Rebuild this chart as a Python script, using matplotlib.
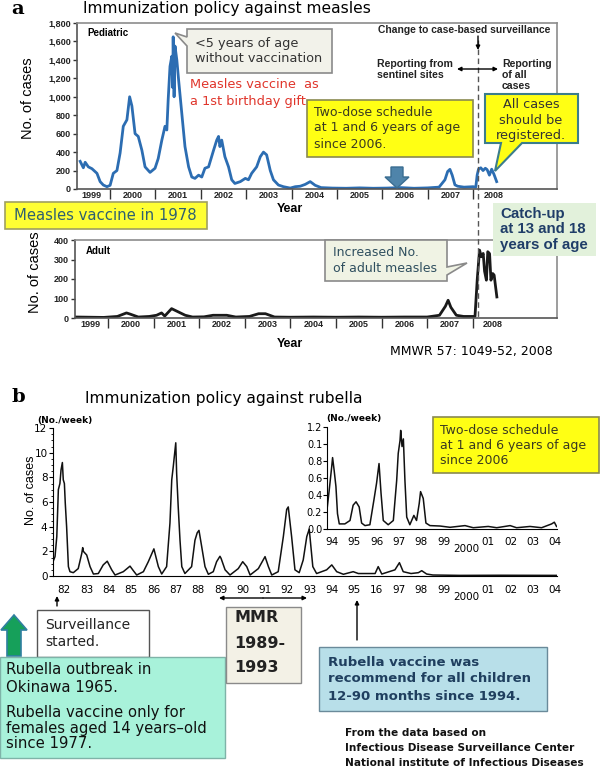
import matplotlib
matplotlib.use("Agg")
import matplotlib.pyplot as plt
from matplotlib.patches import Polygon
from matplotlib.ticker import FuncFormatter, MultipleLocator

W, H = 601, 770

# ---------------- data ----------------
# measles, pediatric (cases per week)
ped_year = [1999.34, 1999.41, 1999.45, 1999.52, 1999.60, 1999.71, 1999.78, 1999.85, 1999.93,
            2000.00, 2000.07, 2000.15, 2000.22, 2000.29, 2000.37, 2000.43, 2000.48, 2000.55,
            2000.62, 2000.70, 2000.77, 2000.88, 2000.99, 2001.06, 2001.14, 2001.21, 2001.25,
            2001.28, 2001.32, 2001.36, 2001.38, 2001.39, 2001.41, 2001.43, 2001.47, 2001.51,
            2001.58, 2001.65, 2001.73, 2001.80, 2001.87, 2001.95, 2002.02, 2002.09, 2002.17,
            2002.28, 2002.35, 2002.39, 2002.42, 2002.46, 2002.53, 2002.61, 2002.68, 2002.75,
            2002.87, 2002.98, 2003.05, 2003.12, 2003.23, 2003.31, 2003.38, 2003.45, 2003.53,
            2003.60, 2003.71, 2003.82, 2003.97, 2004.08, 2004.19, 2004.30, 2004.41, 2004.52,
            2004.65, 2004.90, 2005.20, 2005.50, 2005.80, 2006.10, 2006.40, 2006.70, 2007.00,
            2007.25, 2007.38, 2007.44, 2007.49, 2007.54, 2007.60, 2007.66, 2007.80, 2008.00,
            2008.06, 2008.09, 2008.12, 2008.17, 2008.22, 2008.27, 2008.31, 2008.36, 2008.41,
            2008.46, 2008.52]
ped_cases = [300, 230, 290, 240, 220, 170, 80, 43, 25,
             40, 170, 200, 390, 680, 750, 1000, 900, 600,
             570, 420, 240, 180, 225, 330, 530, 680, 640,
             970, 1330, 1440, 1100, 1650, 1000, 1550, 1400, 1180,
             820, 460, 240, 130, 115, 150, 130, 225, 240,
             420, 530, 570, 460, 530, 350, 240, 100, 60,
             80, 115, 100, 170, 240, 350, 400, 370, 200,
             100, 43, 25, 10, 25, 30, 50, 80, 40,
             15, 10, 8, 12, 8, 10, 15, 8, 12,
             20, 100, 190, 213, 150, 45, 30, 20, 25,
             20, 150, 215, 230, 200, 225, 210, 150, 215,
             160, 80]

# measles, adult (cases per week)
adult_year = [1999.30, 1999.60, 1999.90, 2000.20, 2000.40, 2000.48, 2000.66, 2000.90, 2001.06,
              2001.17, 2001.24, 2001.39, 2001.54, 2001.69, 2001.85, 2002.10, 2002.30, 2002.60,
              2002.80, 2003.10, 2003.30, 2003.45, 2003.65, 2004.00, 2004.50, 2005.00, 2005.50,
              2006.00, 2006.50, 2007.00, 2007.27, 2007.40, 2007.46, 2007.52, 2007.64, 2007.80,
              2008.05, 2008.10, 2008.15, 2008.19, 2008.23, 2008.26, 2008.30, 2008.33, 2008.37,
              2008.40, 2008.44, 2008.47, 2008.53]
adult_cases = [5, 4, 3, 8, 26, 20, 5, 8, 14,
               26, 10, 48, 31, 14, 5, 6, 14, 14,
               5, 8, 22, 22, 5, 4, 5, 4, 5,
               4, 5, 5, 14, 60, 91, 55, 14, 8,
               8, 200, 348, 314, 331, 240, 194, 340, 330,
               194, 228, 220, 108]

measles_labels = ['1999', '2000', '2001', '2002', '2003', '2004', '2005', '2006', '2007', '2008']
measles_label_pos = [1999.6, 2000.5, 2001.5, 2002.5, 2003.5, 2004.5, 2005.5, 2006.5, 2007.5, 2008.45]
year_bounds = [2000, 2001, 2002, 2003, 2004, 2005, 2006, 2007, 2008]

# rubella 1982-2004 (No./week)
rub_year = [1982.01, 1982.09, 1982.17, 1982.24, 1982.31, 1982.36, 1982.42, 1982.46, 1982.51,
            1982.55, 1982.61, 1982.69, 1982.76, 1982.91, 1983.13, 1983.29, 1983.33, 1983.36,
            1983.51, 1983.66, 1983.81, 1984.03, 1984.25, 1984.43, 1984.63, 1984.78, 1985.15,
            1985.45, 1985.60, 1985.75, 1986.05, 1986.27, 1986.52, 1986.72, 1986.87, 1987.09,
            1987.24, 1987.32, 1987.39, 1987.43, 1987.50, 1987.54, 1987.61, 1987.69, 1987.77,
            1987.91, 1988.21, 1988.36, 1988.46, 1988.54, 1988.66, 1988.81, 1988.96, 1989.18,
            1989.33, 1989.48, 1989.53, 1989.71, 1989.93, 1990.30, 1990.50, 1990.68, 1990.83,
            1991.20, 1991.50, 1991.65, 1991.80, 1992.09, 1992.32, 1992.47, 1992.54, 1992.69,
            1992.84, 1993.03, 1993.21, 1993.37, 1993.48, 1993.64, 1993.81, 1994.26, 1994.49,
            1994.71, 1995.01, 1995.45, 1995.68, 1996.43, 1996.57, 1996.73, 1997.32, 1997.52,
            1997.69, 1998.04, 1998.37, 1998.52, 1998.74, 1999.02, 2000.23, 2002.03, 2004.58]
rub_cases = [1.2, 1.57, 3.2, 7.0, 7.5, 8.6, 9.2, 7.8, 7.5,
             5.9, 4.0, 0.76, 0.35, 0.27, 0.6, 1.84, 2.3, 2.0,
             1.7, 0.76, 0.16, 0.2, 0.9, 1.2, 0.5, 0.08, 0.35,
             0.8, 0.43, 0.08, 0.35, 1.16, 2.2, 0.76, 0.16, 0.76,
             4.3, 7.8, 8.9, 9.6, 10.8, 8.3, 5.6, 2.9, 0.76,
             0.2, 0.76, 2.9, 3.5, 3.7, 2.4, 0.76, 0.14, 0.35,
             1.16, 1.6, 1.43, 0.5, 0.08, 0.6, 1.16, 0.76, 0.08,
             0.6, 1.57, 0.76, 0.08, 0.35, 3.2, 5.4, 5.6, 3.2,
             0.5, 0.27, 1.3, 3.2, 3.8, 0.76, 0.2, 0.5, 0.9,
             0.35, 0.14, 0.35, 0.2, 0.2, 0.76, 0.16, 0.5, 1.08,
             0.35, 0.2, 0.27, 0.43, 0.16, 0.08, 0.05, 0.06, 0.05]

# rubella 1994-2004, enlarged inset
rub94_year = [1994.26, 1994.38, 1994.49, 1994.53, 1994.60, 1994.68, 1994.75, 1994.83, 1995.08,
              1995.31, 1995.45, 1995.58, 1995.72, 1995.83, 1995.98, 1996.20, 1996.38, 1996.50,
              1996.61, 1996.70, 1996.80, 1997.02, 1997.25, 1997.40, 1997.47, 1997.55, 1997.58,
              1997.64, 1997.70, 1997.77, 1997.85, 1997.99, 1998.17, 1998.29, 1998.41, 1998.47,
              1998.59, 1998.71, 1998.89, 1999.34, 1999.79, 2000.46, 2000.83, 2001.50, 2001.88,
              2002.48, 2002.77, 2003.37, 2003.89, 2004.34, 2004.46, 2004.56]
rub94_cases = [0.18, 0.46, 0.73, 0.84, 0.69, 0.5, 0.18, 0.06, 0.06,
               0.1, 0.28, 0.32, 0.26, 0.07, 0.04, 0.05, 0.34, 0.54,
               0.77, 0.42, 0.1, 0.05, 0.1, 0.57, 0.89, 1.04, 1.16,
               0.97, 1.06, 0.57, 0.14, 0.05, 0.16, 0.1, 0.3, 0.44,
               0.36, 0.07, 0.04, 0.035, 0.02, 0.04, 0.015, 0.03, 0.015,
               0.04, 0.015, 0.03, 0.015, 0.06, 0.08, 0.03]

rub_labels = ['82', '83', '84', '85', '86', '87', '88', '89', '90', '91', '92', '93',
              '94', '95', '16', '97', '98', '99', '2000', '01', '02', '03', '04']
rub_label_pos = [1982.5, 1983.5, 1984.5, 1985.5, 1986.5, 1987.5, 1988.5, 1989.5, 1990.5,
                 1991.5, 1992.5, 1993.5, 1994.5, 1995.5, 1996.5, 1997.5, 1998.5, 1999.5,
                 2000.5, 2001.5, 2002.5, 2003.5, 2004.5]
rub94_labels = ['94', '95', '96', '97', '98', '99', '2000', '01', '02', '03', '04']
rub94_label_pos = [1994.5, 1995.5, 1996.5, 1997.5, 1998.5, 1999.5, 2000.5, 2001.5, 2002.5,
                   2003.5, 2004.5]
inset_ytick_labels = ['0.0', '0.2', '0.4', '0.6', '0.8', '0.1', '1.2']

GOTH = 'DejaVu Sans'
ARIAL = 'Liberation Sans'
NARROW = ['Liberation Sans Narrow', 'Liberation Sans']


def rect(x0, y0, x1, y1):
    return [x0 / W, 1 - y1 / H, (x1 - x0) / W, (y1 - y0) / H]


fig = plt.figure(figsize=(W / 100, H / 100), dpi=100)


def measles_axes(pos, year, cases, color, ymax, ystep, fmt):
    ax = fig.add_axes(rect(*pos))
    ax.plot(year, cases, color=color, lw=2)
    ax.set_xlim(1999.27, 2009.85)
    ax.set_ylim(0, ymax)
    ax.set_yticks(range(0, ymax + 1, ystep))
    ax.yaxis.set_major_formatter(FuncFormatter(fmt))
    ax.set_xticks(year_bounds)
    ax.set_xticks(measles_label_pos, minor=True)
    ax.set_xticklabels(measles_labels, minor=True)
    ax.tick_params(axis='x', which='major', length=7, width=1, labelbottom=False, color='#333')
    ax.tick_params(axis='x', which='minor', length=0, pad=1.5)
    ax.tick_params(axis='y', length=3, width=1, pad=1.5, color='#333')
    for lab in ax.get_xticklabels(minor=True) + ax.get_yticklabels():
        lab.set_fontfamily(ARIAL)
        lab.set_fontsize(6.5)
        lab.set_fontweight('bold')
        lab.set_color('#222')
    for s in ax.spines.values():
        s.set_color('#8c8c8c')
        s.set_linewidth(1.2)
    ax.spines['left'].set_color('#555')
    ax.spines['bottom'].set_color('#555')
    return ax


ax_ped = measles_axes((77, 23, 557, 189), ped_year, ped_cases, '#2c6db2', 1800, 200,
                      lambda v, p: f'{int(v):,}')
ax_adu = measles_axes((75, 240, 557, 318), adult_year, adult_cases, '#1a1a1a', 400, 100,
                      lambda v, p: f'{int(v)}')

# rubella main
ax_rub = fig.add_axes(rect(53, 428, 557, 576))
ax_rub.plot(rub_year, rub_cases, color='#111', lw=1.1)
ax_rub.set_xlim(1982.0, 2004.58)
ax_rub.set_ylim(0, 12)
ax_rub.set_yticks(range(0, 13, 2))
ax_rub.yaxis.set_minor_locator(MultipleLocator(0.5))
ax_rub.set_xticks([])
ax_rub.tick_params(axis='y', which='major', length=3, pad=1, labelsize=7.5)
ax_rub.tick_params(axis='y', which='minor', length=1.5)
for s in ['top', 'right']:
    ax_rub.spines[s].set_visible(False)
for lab in ax_rub.get_yticklabels():
    lab.set_fontfamily(GOTH)
for p, lab in zip(rub_label_pos, rub_labels):
    ax_rub.annotate(lab, xy=(p, 0), xycoords=('data', 'axes fraction'),
                    xytext=(0, -11.5 if lab == '2000' else -6.5), textcoords='offset points',
                    ha='center', va='top', fontsize=7.5, family=GOTH)
ax_rub.patch.set_alpha(0)

# rubella inset 1994-2004
ax_ins = fig.add_axes(rect(327, 427, 557, 529))
ax_ins.plot(rub94_year, rub94_cases, color='#111', lw=1.1)
ax_ins.set_xlim(1994.28, 2004.58)
ax_ins.set_ylim(0, 1.2)
ax_ins.set_yticks([0, 0.2, 0.4, 0.6, 0.8, 1.0, 1.2])
ax_ins.set_yticklabels(inset_ytick_labels, fontsize=7, family=GOTH)
ax_ins.set_xticks([])
ax_ins.tick_params(axis='y', length=3, pad=0.5)
for s in ['top', 'right']:
    ax_ins.spines[s].set_visible(False)
for p, lab in zip(rub94_label_pos, rub94_labels):
    ax_ins.annotate(lab, xy=(p, 0), xycoords=('data', 'axes fraction'),
                    xytext=(0, -11 if lab == '2000' else -6), textcoords='offset points',
                    ha='center', va='top', fontsize=7.5, family=GOTH)
ax_ins.patch.set_alpha(0)

# ---------------- overlay for notes, in pixel units ----------------
ov = fig.add_axes([0, 0, 1, 1], zorder=10)
ov.set_xlim(0, W)
ov.set_ylim(H, 0)
ov.set_axis_off()


def poly(pts, fc, ec, lw=1.0):
    ov.add_patch(Polygon(pts, closed=True, fc=fc, ec=ec, lw=lw))


def box(x0, y0, x1, y1, fc, ec, lw=1.0):
    poly([(x0, y0), (x1, y0), (x1, y1), (x0, y1)], fc, ec, lw)


def lines(x, ys, strs, **kw):
    kw.setdefault('va', 'center')
    for y, s in zip(ys, strs):
        ov.text(x, y, s, **kw)


def arrow(x0, y0, x1, y1, style='-|>', lw=1.0, ms=8):
    ov.annotate('', xy=(x1, y1), xytext=(x0, y0),
                arrowprops=dict(arrowstyle=style, lw=lw, color='k', mutation_scale=ms,
                                shrinkA=0, shrinkB=0))


# panel letters and titles
ov.text(11, 9, 'a', family='DejaVu Serif', fontweight='bold', fontsize=14, va='center')
ov.text(11, 397, 'b', family='DejaVu Serif', fontweight='bold', fontsize=14, va='center')
ov.text(83, 8, 'Immunization policy against measles', family=GOTH, fontsize=11.2, va='center')
ov.text(85, 398, 'Immunization policy against rubella', family=GOTH, fontsize=11.2, va='center')

# y labels
ov.text(28, 98, 'No. of cases', rotation=90, family=NARROW, fontsize=10.5, ha='center', va='center')
ov.text(35, 272, 'No. of cases', rotation=90, family=NARROW, fontsize=10.5, ha='center', va='center')
ov.text(31, 490, 'No. of cases', rotation=90, family=NARROW, fontsize=9, ha='center', va='center')
ov.text(290, 209, 'Year', family=ARIAL, fontweight='bold', fontsize=9, ha='center', va='center')
ov.text(290, 344, 'Year', family=ARIAL, fontweight='bold', fontsize=9, ha='center', va='center')
ov.text(87, 33, 'Pediatric', family=ARIAL, fontweight='bold', fontsize=7, va='center')
ov.text(86, 251, 'Adult', family=ARIAL, fontweight='bold', fontsize=7, va='center')
ov.text(37, 420, '(No./week)', family=GOTH, fontweight='bold', fontsize=6.5, va='center')
ov.text(326, 418, '(No./week)', family=GOTH, fontweight='bold', fontsize=6.5, va='center')

# surveillance change
ov.plot([478, 478], [40, 318], color='#555', lw=1, ls=(0, (4, 2.5)))
ov.text(464, 30, 'Change to case-based surveillance', family=ARIAL, fontweight='bold',
        fontsize=7.4, ha='center', va='center', color='#222')
arrow(478, 36, 478, 50, lw=1, ms=6)
lines(377, [64, 75], ['Reporting from', 'sentinel sites'], family=ARIAL, fontweight='bold',
      fontsize=7.6, color='#222')
arrow(457, 69, 498, 69, style='<|-|>', lw=1, ms=6)
lines(502, [64, 75, 86], ['Reporting', 'of all', 'cases'], family=ARIAL, fontweight='bold',
      fontsize=7.6, color='#222')

# callout at 2001 peak
poly([(187, 29), (332, 29), (332, 73), (187, 73), (187, 46), (175, 33), (187, 37)],
     '#f2f2ea', '#8a8a8a', 1.2)
lines(195, [44, 59], ['<5 years of age', 'without vaccination'], family=GOTH, fontsize=9.3,
      color='#333')
lines(190, [85, 101], ['Measles vaccine  as', 'a 1st birthday gift'], family=GOTH, fontsize=9.3,
      color='#e0352b')

# two-dose box (measles)
box(307, 100, 473, 157, '#ffff14', '#8a8a50', 1.2)
lines(314, [113, 128, 144], ['Two-dose schedule', 'at 1 and 6 years of age', 'since 2006.'],
      family=GOTH, fontsize=9, color='#3a3a20')

# all cases callout
poly([(485, 94), (578, 94), (578, 143), (522, 143), (495, 171), (501, 143), (485, 143)],
     '#ffff14', '#3b7d8c', 1.5)
lines(531, [105, 120, 135], ['All cases', 'should be', 'registered.'], family=GOTH,
      fontsize=9.3, color='#333', ha='center')

# 2006 block arrow
poly([(391, 167), (403, 167), (403, 177), (409, 177), (397, 188), (385, 177), (391, 177)],
     '#4f84aa', '#3a6d91', 1)

# 1978 box
box(5, 202, 207, 229, '#ffff33', '#a0a060', 1.2)
ov.text(14, 216, 'Measles vaccine in 1978', family=GOTH, fontsize=10.7, color='#2f6070', va='center')

# catch-up box
box(493, 203, 596, 256, '#e2f1db', 'none', 0)
lines(500, [214, 229, 245], ['Catch-up', 'at 13 and 18', 'years of age'], family=ARIAL,
      fontweight='bold', fontsize=10.8, color='#1f3d68')

# adult callout
poly([(325, 240), (447, 240), (447, 267), (467, 263), (447, 275), (447, 281), (325, 281)],
     '#f0f3e4', '#8a8a8a', 1.2)
lines(333, [252, 268], ['Increased No.', 'of adult measles'], family=GOTH, fontsize=9,
      color='#2f4f5f')

ov.text(390, 352, 'MMWR 57: 1049-52, 2008', family=GOTH, fontsize=9, va='center')

# ---- panel b notes ----
box(433, 417, 599, 473, '#ffff14', '#8a8a50', 1.2)
lines(440, [430, 446, 461], ['Two-dose schedule', 'at 1 and 6 years of age', 'since 2006'],
      family=GOTH, fontsize=9, color='#3a3a20')

arrow(57, 606, 57, 596, lw=1, ms=6)
box(37, 610, 149, 657, 'white', '#555', 1)
lines(45, [625, 642], ['Surveillance', 'started.'], family=GOTH, fontsize=10, color='#222')

poly([(7, 656), (21, 656), (21, 630), (27, 630), (14, 615), (1, 630), (7, 630)],
     '#16a05a', '#2f7fa0', 1.2)

box(0, 657, 225, 758, '#a8f2da', '#7fb3a8', 1)
lines(6, [670, 687, 713, 728, 743],
      ['Rubella outbreak in', 'Okinawa 1965.', 'Rubella vaccine only for',
       'females aged 14 years\u2013old', 'since 1977.'],
      family=GOTH, fontsize=10.7, color='#111')

arrow(263, 598, 219, 598, lw=1, ms=6)
arrow(263, 598, 307, 598, lw=1, ms=6)
box(226, 607, 301, 683, '#f3f1e6', '#8a8a8a', 1)
lines(234, [618, 643, 668], ['MMR', '1989-', '1993'], family=GOTH, fontweight='bold',
      fontsize=11.5, color='#222')

arrow(357, 640, 357, 600, lw=1, ms=6)
box(319, 647, 547, 711, '#b8dfe9', '#6a8a9a', 1)
lines(328, [662, 679, 696],
      ['Rubella vaccine was', 'recommend for all children', '12-90 months since 1994.'],
      family=GOTH, fontweight='bold', fontsize=9.5, color='#1f3f5f')

lines(345, [733, 748, 763],
      ['From the data based on', 'Infectious Disease Surveillance Center',
       'National institute of Infectious Diseases'],
      family=GOTH, fontweight='bold', fontsize=7.6, color='#111')

fig.savefig('out.png', dpi=100)
